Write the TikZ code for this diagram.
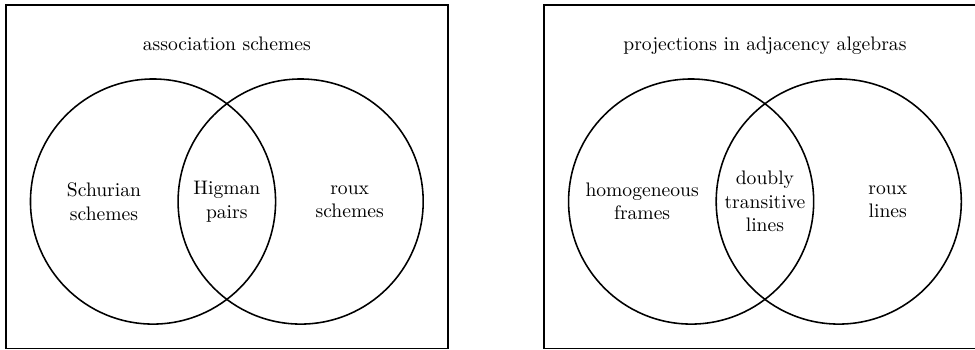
\documentclass[tikz,border=0pt]{standalone}
\begin{document}
\begin{tikzpicture}[thick]
	\useasboundingbox (-2.747,-2.648) rectangle (14.756,3.618);
	%association schemes
	\draw(-2.64,-2.64) rectangle (5.30,3.53);
	\draw(1.325,2.72) node[anchor=base](asTitle){association schemes};
	\draw(0,0) circle (2.2);
	\draw(2.65,0) circle (2.2);
	\draw(-0.88,0) node[align=center](schurian){Schurian\\schemes};
	\draw(1.325,0) node[align=center](higman){Higman\\pairs};
	\draw(3.53,0) node[align=center](rouxSch){roux\\schemes};
	%projections
	\draw(7.02,-2.64) rectangle (14.96,3.53);
	\draw(10.985,2.72) node[anchor=base](projTitle){projections in adjacency algebras};
	\draw(9.66,0) circle (2.2);
	\draw(12.31,0) circle (2.2);
	\draw(8.78,0) node[align=center](homog){homogeneous\\frames};
	\draw(10.985,0) node[align=center](doubly){doubly\\transitive\\lines};
	\draw(13.19,0) node[align=center](rouxLin){roux\\lines};
\end{tikzpicture}
\end{document}
